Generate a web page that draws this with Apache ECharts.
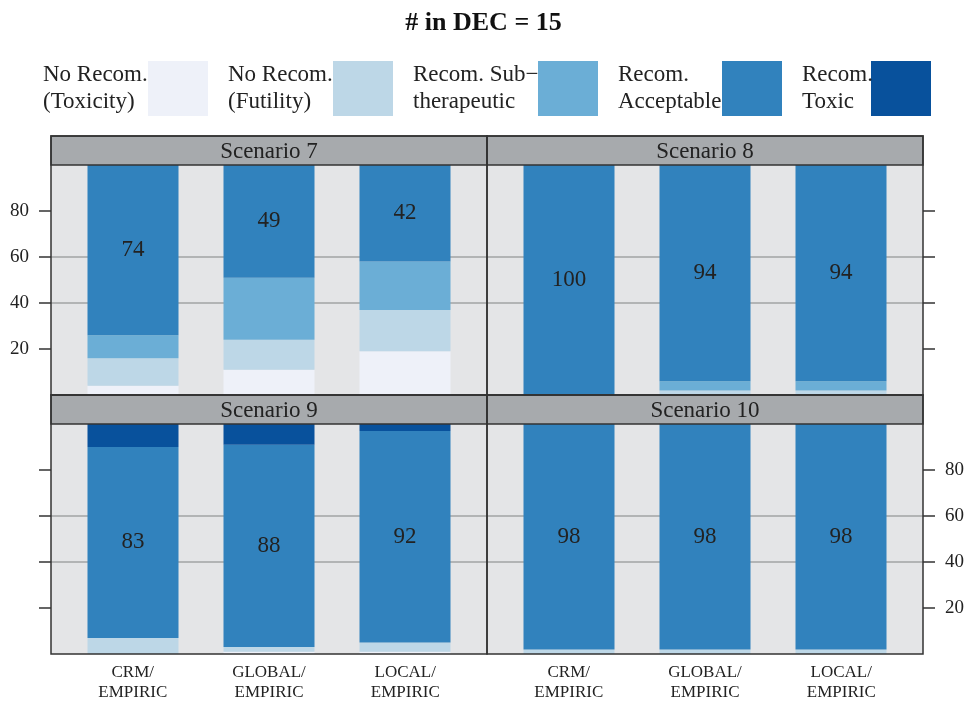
<!DOCTYPE html>
<html>
<head>
<meta charset="utf-8">
<script src="https://cdn.jsdelivr.net/npm/echarts@6/dist/echarts.min.js"></script>
<style>
  html, body { margin: 0; padding: 0; background: #fff; }
</style>
</head>
<body>
<div id="demo" style="height: 703px; width: 967px"></div>
<script>
const categories = ['CRM/\nEMPIRIC', 'GLOBAL/\nEMPIRIC', 'LOCAL/\nEMPIRIC']
const scenarios = ['Scenario 7', 'Scenario 8', 'Scenario 9', 'Scenario 10']
const outcomeNames = ['No Recom. (Toxicity)', 'No Recom. (Futility)', 'Recom. Sub−therapeutic', 'Recom. Acceptable', 'Recom. Toxic']
const outcomeLines = [['No Recom.', '(Toxicity)'], ['No Recom.', '(Futility)'], ['Recom. Sub−', 'therapeutic'], ['Recom.', 'Acceptable'], ['Recom.', 'Toxic']]
const outcomeColors = ['#eef1f9', '#bdd7e7', '#6baed6', '#3182bd', '#08519c']
// one row per scenario, one value per design (CRM, GLOBAL, LOCAL)
const noRecomToxicity = [[4, 11, 19], [0, 0, 0], [0, 1, 1], [0, 0, 0]]
const noRecomFutility = [[12, 13, 18], [0, 2, 2], [7, 2, 4], [2, 2, 2]]
const recomSubTherapeutic = [[10, 27, 21], [0, 4, 4], [0, 0, 0], [0, 0, 0]]
const recomAcceptable = [[74, 49, 42], [100, 94, 94], [83, 88, 92], [98, 98, 98]]
const recomToxic = [[0, 0, 0], [0, 0, 0], [10, 9, 3], [0, 0, 0]]
const yTicks = [20, 40, 60, 80]

const outcomeValues = [noRecomToxicity, noRecomFutility, recomSubTherapeutic, recomAcceptable, recomToxic]
const FONT = 'Liberation Serif'
const TEXT = '#222'

// panel layout (2 x 2 lattice)
const panels = [
  { left: 51, top: 165 }, { left: 487, top: 165 },
  { left: 51, top: 424 }, { left: 487, top: 424 }
]
const panelW = 436
const panelH = 230
const stripH = 29
const barInset = 14   // category band area sits inside the panel
const legendTextW = [100, 100, 120, 99, 64]

const chart = echarts.init(document.getElementById('demo'))

// grids 0-3: panel backgrounds with y ticks / grid lines / x labels
// grids 4-7: the bars (category x axis)
const grids = panels.map(p => ({
  left: p.left, top: p.top, width: panelW, height: panelH,
  show: true, backgroundColor: '#e4e5e7', borderWidth: 0
})).concat(panels.map(p => ({
  left: p.left + barInset, top: p.top, width: panelW - 2 * barInset, height: panelH,
  show: false
})))

const xAxes = panels.map((p, i) => ({
  type: 'value', gridIndex: i, min: 0.4, max: 3.6,
  axisLine: { show: false },
  axisTick: { show: false },
  splitLine: { show: false },
  axisLabel: {
    show: i >= 2,
    customValues: [1, 2, 3],
    formatter: v => categories[Math.round(v) - 1] || '',
    margin: 9,
    fontFamily: FONT, fontSize: 17, lineHeight: 20, color: TEXT
  }
})).concat(panels.map((p, i) => ({
  type: 'category', gridIndex: 4 + i, data: categories,
  axisLine: { show: false }, axisTick: { show: false },
  axisLabel: { show: false }, splitLine: { show: false }
})))

const yAxes = panels.map((p, i) => ({
  type: 'value', gridIndex: i, min: 0, max: 100, interval: 20,
  position: i % 2 === 0 ? 'left' : 'right',
  axisLine: { show: false },
  axisTick: {
    show: true, length: 12, customValues: yTicks,
    lineStyle: { color: '#333', width: 1.5 }
  },
  axisLabel: {
    show: i === 0 || i === 3, customValues: yTicks, margin: 22,
    fontFamily: FONT, fontSize: 19, color: TEXT
  },
  splitLine: {
    show: true, showMinLine: false, showMaxLine: false,
    lineStyle: { color: '#a2a3a5', width: 1.5 }
  }
})).concat(panels.map((p, i) => ({
  type: 'value', gridIndex: 4 + i, min: 0, max: 100, interval: 20,
  axisLine: { show: false }, axisTick: { show: false },
  axisLabel: { show: false }, splitLine: { show: false }
})))

const series = []
panels.forEach((p, pi) => {
  outcomeNames.forEach((name, k) => {
    series.push({
      type: 'bar',
      name: name,
      xAxisIndex: 4 + pi,
      yAxisIndex: 4 + pi,
      stack: 'panel' + pi,
      barWidth: 91,
      itemStyle: { color: outcomeColors[k] },
      label: {
        show: k === 3, position: 'inside',
        fontFamily: FONT, fontSize: 23, color: TEXT
      },
      emphasis: { disabled: true },
      data: outcomeValues[k][pi]
    })
  })
})

const rich = {}
legendTextW.forEach((w, k) => {
  rich['t' + k] = { width: w, align: 'left', fontFamily: FONT, fontSize: 23, lineHeight: 27, color: TEXT }
})

const graphics = []
panels.forEach((p, i) => {
  graphics.push({
    type: 'rect',
    shape: { x: p.left, y: p.top - stripH, width: panelW, height: stripH },
    style: { fill: '#a7aaad', stroke: '#333', lineWidth: 1.5 },
    z: 50
  })
  graphics.push({
    type: 'text',
    style: {
      text: scenarios[i], x: p.left + panelW / 2, y: p.top - stripH / 2 + 1,
      textAlign: 'center', textVerticalAlign: 'middle',
      font: '23px "' + FONT + '"', fill: TEXT
    },
    z: 51
  })
  graphics.push({
    type: 'rect',
    shape: { x: p.left, y: p.top - stripH, width: panelW, height: stripH + panelH },
    style: { fill: 'none', stroke: '#333', lineWidth: 1.5 },
    z: 100
  })
})

const option = {
  backgroundColor: '#fff',
  animation: false,
  title: {
    text: '# in DEC = 15',
    left: 'center',
    top: 5,
    textStyle: { fontFamily: FONT, fontWeight: 'bold', fontSize: 26, color: '#111' }
  },
  legend: {
    top: 61, left: 43, padding: 0,
    align: 'right',
    icon: 'rect',
    itemWidth: 60, itemHeight: 55, itemGap: 20,
    selectedMode: false,
    data: outcomeNames,
    formatter: name => {
      const k = outcomeNames.indexOf(name)
      return outcomeLines[k].map(s => '{t' + k + '|' + s + '}').join('\n')
    },
    textStyle: { fontFamily: FONT, fontSize: 23, lineHeight: 27, color: TEXT, rich: rich }
  },
  grid: grids,
  xAxis: xAxes,
  yAxis: yAxes,
  series: series,
  graphic: graphics
}
chart.setOption(option)
</script>
</body>
</html>
